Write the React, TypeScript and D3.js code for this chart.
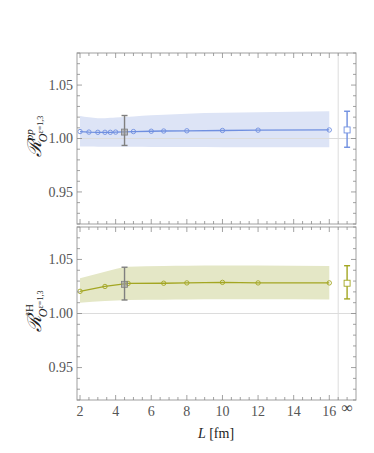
import React from "react";
import * as d3 from "d3";

// ---- data ----
const topX = [2, 2.5, 3, 3.4, 3.7, 4, 5, 6, 6.7, 8, 10, 12, 16];
const topY = [1.0065, 1.006, 1.0058, 1.0058, 1.0058, 1.006, 1.0065, 1.0068, 1.007, 1.0072, 1.0075, 1.0078, 1.008];
const topHi = [1.021, 1.0198, 1.019, 1.019, 1.0193, 1.0197, 1.0207, 1.0217, 1.0222, 1.0232, 1.024, 1.0246, 1.0255];
const topLo = [0.9925, 0.9924, 0.9923, 0.9923, 0.9923, 0.9923, 0.9922, 0.9921, 0.9921, 0.992, 0.9919, 0.9918, 0.9917];
const topRef = { x: 4.5, y: 1.006, lo: 0.9935, hi: 1.0215 };
const topInf = { y: 1.008, lo: 0.9918, hi: 1.0255 };

const botX = [2, 3.4, 4.7, 6.7, 8, 10, 12, 16];
const botY = [1.0205, 1.025, 1.0278, 1.028, 1.0283, 1.0288, 1.0283, 1.0283];
const botHi = [1.0325, 1.0385, 1.0432, 1.044, 1.0442, 1.0445, 1.0443, 1.044];
const botLo = [1.01, 1.0115, 1.0125, 1.0128, 1.013, 1.0132, 1.0132, 1.013];
const botRef = { x: 4.5, y: 1.027, lo: 1.0125, hi: 1.0428 };
const botInf = { y: 1.028, lo: 1.0135, hi: 1.0442 };

const xTicks = [2, 4, 6, 8, 10, 12, 14, 16];
const yTicks = [0.95, 1.0, 1.05];
const infX = 17;
const sepX = 16.5;

const W = 374, H = 453;
const left = 77, right = 356;
const panels = [
  { top: 53, bottom: 224 },
  { top: 227, bottom: 400 },
];

const x = d3.scaleLinear().domain([1.83, 17.5]).range([left, right]);

const FONT = "Times New Roman, Liberation Serif, DejaVu Serif, serif";

function Panel({ idx, xs, ys, hi, lo, ref0, inf, color, band, sup }: any) {
  const { top, bottom } = panels[idx];
  const y = d3.scaleLinear().domain([0.92, 1.08]).range([bottom, top]);
  const area = d3
    .area<number>()
    .x((_, i) => x(xs[i]))
    .y0((_, i) => y(lo[i]))
    .y1((_, i) => y(hi[i]))
    .curve(d3.curveMonotoneX);
  const line = d3
    .line<number>()
    .x((_, i) => x(xs[i]))
    .y((d) => y(d));
  const minorX = d3.range(2, 17.51, 0.5).filter((v) => x(v) < right - 1);
  const minorY = d3.range(0.92, 1.0801, 0.01);
  const tc = "#8a8a8a";
  const cap = 3;
  const cy = (top + bottom) / 2;
  return (
    <g>
      <path d={area(xs as any) as string} fill={band} />
      <line x1={left} x2={right} y1={y(1)} y2={y(1)} stroke="#dcdcdc" strokeWidth={1} />
      <line x1={x(sepX)} x2={x(sepX)} y1={top} y2={bottom} stroke="#dcdcdc" strokeWidth={1} />
      <path d={line(ys) as string} fill="none" stroke={color} strokeWidth={1.3} />
      {xs.map((v: number, i: number) => (
        <circle key={i} cx={x(v)} cy={y(ys[i])} r={2.2} fill="none" stroke={color} strokeWidth={0.9} />
      ))}
      <g stroke="#7f7f7f" strokeWidth={1.4}>
        <line x1={x(ref0.x)} x2={x(ref0.x)} y1={y(ref0.lo)} y2={y(ref0.hi)} />
        <line x1={x(ref0.x) - cap} x2={x(ref0.x) + cap} y1={y(ref0.lo)} y2={y(ref0.lo)} />
        <line x1={x(ref0.x) - cap} x2={x(ref0.x) + cap} y1={y(ref0.hi)} y2={y(ref0.hi)} />
      </g>
      <rect x={x(ref0.x) - 3} y={y(ref0.y) - 3} width={6} height={6} fill="#9a9a9a" fillOpacity={0.6} stroke="#7f7f7f" strokeWidth={0.8} />
      <g stroke={color} strokeWidth={1.4}>
        <line x1={x(infX)} x2={x(infX)} y1={y(inf.lo)} y2={y(inf.hi)} />
        <line x1={x(infX) - cap} x2={x(infX) + cap} y1={y(inf.lo)} y2={y(inf.lo)} />
        <line x1={x(infX) - cap} x2={x(infX) + cap} y1={y(inf.hi)} y2={y(inf.hi)} />
      </g>
      <rect x={x(infX) - 3} y={y(inf.y) - 3} width={6} height={6} fill="white" stroke={color} strokeWidth={0.9} />
      <rect x={left} y={top} width={right - left} height={bottom - top} fill="none" stroke="#a0a0a0" strokeWidth={1} />
      {minorX.map((v, i) => {
        const major = xTicks.includes(v);
        const len = major ? 5 : 3;
        return (
          <g key={"x" + i} stroke={tc} strokeWidth={0.8}>
            <line x1={x(v)} x2={x(v)} y1={top} y2={top + len} />
            <line x1={x(v)} x2={x(v)} y1={bottom} y2={bottom - len} />
          </g>
        );
      })}
      {minorY.map((v, i) => {
        const major = yTicks.some((t) => Math.abs(t - v) < 1e-6);
        const len = major ? 5 : 3;
        return (
          <g key={"y" + i} stroke={tc} strokeWidth={0.8}>
            <line x1={left} x2={left + len} y1={y(v)} y2={y(v)} />
            <line x1={right} x2={right - len} y1={y(v)} y2={y(v)} />
          </g>
        );
      })}
      {yTicks.map((t) => (
        <text key={t} x={left - 4} y={y(t)} dy="0.35em" textAnchor="end" fontFamily={FONT} fontSize={14} fill="#555">
          {t.toFixed(2)}
        </text>
      ))}
      <text transform={`translate(41,${cy - 2}) rotate(-90)`} textAnchor="middle" fontFamily={FONT} fill="#222">
        <tspan fontSize={19} fontStyle="italic">ℛ</tspan>
        <tspan fontSize={11} fontStyle={sup === "pp" ? "italic" : "normal"} dy={-8}>{sup}</tspan>
        <tspan fontSize={12} fontStyle="italic" dx={-13} dy={14}>O</tspan>
        <tspan fontSize={8} dy={-4}>ε=1,3</tspan>
      </text>
    </g>
  );
}

export default function App() {
  const base = panels[1].bottom;
  return (
    <svg width={W} height={H} style={{ position: "absolute", left: 0, top: 0, background: "white" }}>
      <Panel idx={0} xs={topX} ys={topY} hi={topHi} lo={topLo} ref0={topRef} inf={topInf} color="#6f8fe0" band="#dde4f6" sup="pp" />
      <Panel idx={1} xs={botX} ys={botY} hi={botHi} lo={botLo} ref0={botRef} inf={botInf} color="#a3a622" band="#e4e7c6" sup="³H" />
      {xTicks.map((t) => (
        <text key={t} x={x(t)} y={base + 16} textAnchor="middle" fontFamily={FONT} fontSize={14} fill="#555">
          {t}
        </text>
      ))}
      <text x={x(infX)} y={base + 13} textAnchor="middle" fontFamily={FONT} fontSize={16} fill="#444">∞</text>
      <text x={216} y={438} textAnchor="middle" fontFamily={FONT} fontSize={14} fill="#222">
        <tspan fontStyle="italic">L</tspan> [fm]
      </text>
    </svg>
  );
}
